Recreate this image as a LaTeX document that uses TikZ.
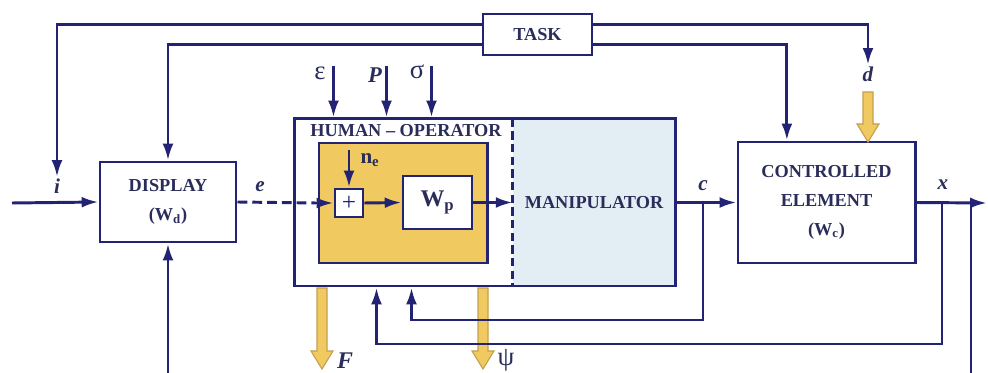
\documentclass[tikz,border=0pt]{standalone}
\usepackage{fontspec}
\setmainfont{Liberation Serif}
\definecolor{navy}{RGB}{35, 35, 115}
\definecolor{inkblue}{RGB}{42, 44, 90}
\definecolor{opgold}{RGB}{240, 202, 96}
\definecolor{goldedge}{RGB}{196, 160, 78}
\definecolor{manipblue}{RGB}{226, 238, 244}
\usetikzlibrary{arrows.meta, positioning, calc}
\tikzset{
	block/.style={rectangle, draw=navy, fill=white, line width=2.1pt, align=center, text=inkblue, font={\fontsize{13}{20.5}\selectfont\bfseries}},
	wblock/.style={rectangle, draw=navy, fill=white, line width=2.1pt, align=center, text=inkblue, font={\fontsize{17}{18}\selectfont\bfseries}},
	sumbox/.style={rectangle, draw=navy, fill=white, line width=2.1pt, minimum size=0.7cm, inner sep=0pt, text=navy, font={\fontsize{18}{18}\selectfont}},
	perception/.style={rectangle, draw=navy, fill=opgold, line width=2.1pt},
	manipzone/.style={rectangle, fill=manipblue, text=inkblue, font={\fontsize{13}{14}\selectfont\bfseries}},
	opframe/.style={rectangle, draw=navy, line width=2.1pt},
	divider/.style={draw=navy, line width=1.8pt, dash pattern=on 6pt off 3pt},
	siglabel/.style={text=inkblue, inner sep=1pt, font={\fontsize{15}{15}\selectfont\bfseries\itshape}},
	greeklabel/.style={text=inkblue, inner sep=1pt, font={\fontsize{19}{19}\selectfont}},
	signal/.style={-{Latex[length=4.2mm, width=2.7mm]}, draw=navy, line width=2.1pt},
	feed/.style={draw=navy, line width=2.1pt},
	flowarr/.style={draw=goldedge, fill=opgold, line width=0.8pt, line join=miter},
}
% hollow yellow flow arrow: x, top y, tip y
\newcommand{\flowarrow}[3]{\filldraw[flowarr] (#1-5,#2) -- (#1-5,#3-18) -- (#1-11,#3-18) -- (#1,#3) -- (#1+11,#3-18) -- (#1+5,#3-18) -- (#1+5,#2) -- cycle;}

\begin{document}
\begin{tikzpicture}[x=0.025cm, y=-0.025cm]
	\useasboundingbox (0,0) rectangle (988,373);
	% blocks
	\node[block, minimum width=2.725cm, minimum height=1.025cm] (task) at (537.5,34.5) {TASK};
	\node[block, minimum width=3.4cm, minimum height=2cm] (disp) at (168,202) {DISPLAY\\(W\textsubscript{d})};
	\node[block, minimum width=4.425cm, minimum height=3.025cm] (ce) at (826.5,202.5) {CONTROLLED\\ELEMENT\\(W\textsubscript{c})};
	% human operator
	\node[manipzone, minimum width=4.05cm, minimum height=4.175cm] (manip) at (594,202.5) {MANIPULATOR};
	\draw[divider] (manip.north west) -- (manip.south west);
	\node[opframe, minimum width=9.5cm, minimum height=4.175cm] (ho) at (485,202.5) {};
	\node[block, draw=none, fill=none, inner sep=0pt] (hotitle) at (406,131) {HUMAN -- OPERATOR};
	\node[perception, minimum width=4.2cm, minimum height=3cm] (percept) at (403,203) {};
	\node[sumbox] (plus) at (349,203) {+};
	\node[wblock, minimum width=1.725cm, minimum height=1.325cm] (wp) at (437.5,202.5) {W\textsubscript{p}};
	% labels
	\node[siglabel] (ilab) at (57,186) {i};
	\node[siglabel] (elab) at (260,187) {e};
	\node[siglabel] (clab) at (703,186) {c};
	\node[siglabel] (xlab) at (943,185) {x};
	\node[siglabel] (dlab) at (868,74) {d};
	\node[greeklabel] (epslab) at (320,73) {ε};
	\node[siglabel, font={\fontsize{16}{16}\selectfont\bfseries\itshape}] (plab) at (375,75) {P};
	\node[greeklabel] (siglab) at (417,72) {σ};
	\node[siglabel, font={\fontsize{17}{17}\selectfont\bfseries\itshape}] (flab) at (345,361) {F};
	\node[greeklabel] (psilab) at (506,360) {ψ};
	\node[text=inkblue, inner sep=1pt, font={\fontsize{15}{15}\selectfont\bfseries}] (nelab) at (370,160) {n\textsubscript{e}};
	% free ends
	\coordinate (iin) at (12,203);
	\coordinate (eend) at (316,203);
	\coordinate (nein) at (349,150);
	\coordinate (cb) at (703,203);
	\coordinate (xb1) at (942,203);
	\coordinate (xb2) at (971,203);
	\coordinate (xout) at (987,203);
	% flows out of and into the loop
	\flowarrow{868}{92}{142}
	\flowarrow{322}{288}{369}
	\flowarrow{483}{288}{369}
	% task lines
	\draw[signal] ([yshift=0.26cm]task.west) -| (ilab.north);
	\draw[signal] ([yshift=-0.26cm]task.west) -| (disp.north);
	\draw[signal] ([yshift=0.26cm]task.east) -| (dlab.north);
	\draw[signal] ([yshift=-0.26cm]task.east) -| ([xshift=-0.99cm]ce.north);
	% inputs to the operator
	\draw[signal] ([xshift=1cm]ho.north west) ++(0,-51) -- ++(0,51);
	\draw[signal] ([xshift=2.325cm]ho.north west) ++(0,-51) -- ++(0,51);
	\draw[signal] ([xshift=3.45cm]ho.north west) ++(0,-51) -- ++(0,51);
	% forward path
	\draw[signal] (iin) -- (disp.west);
	\draw[feed, dash pattern=on 7pt off 3.5pt] (disp.east) -- (eend);
	\draw[signal] (eend) -- (plus.west);
	\draw[signal] (nein) -- (plus.north);
	\draw[signal] (plus.east) -- (wp.west);
	\draw[signal] (wp.east) -- (manip.west);
	\draw[signal] (ho.east) -- (ce.west);
	\draw[signal] (ce.east) -- (xout);
	% feedback
	\draw[signal] (cb) -- ++(0,117) -| ([xshift=2.95cm]ho.south west);
	\draw[signal] (xb1) -- ++(0,141) -| ([xshift=2.075cm]ho.south west);
	\draw[signal] (xb2) -- ++(0,190) -| (disp.south);
\end{tikzpicture}
\end{document}
